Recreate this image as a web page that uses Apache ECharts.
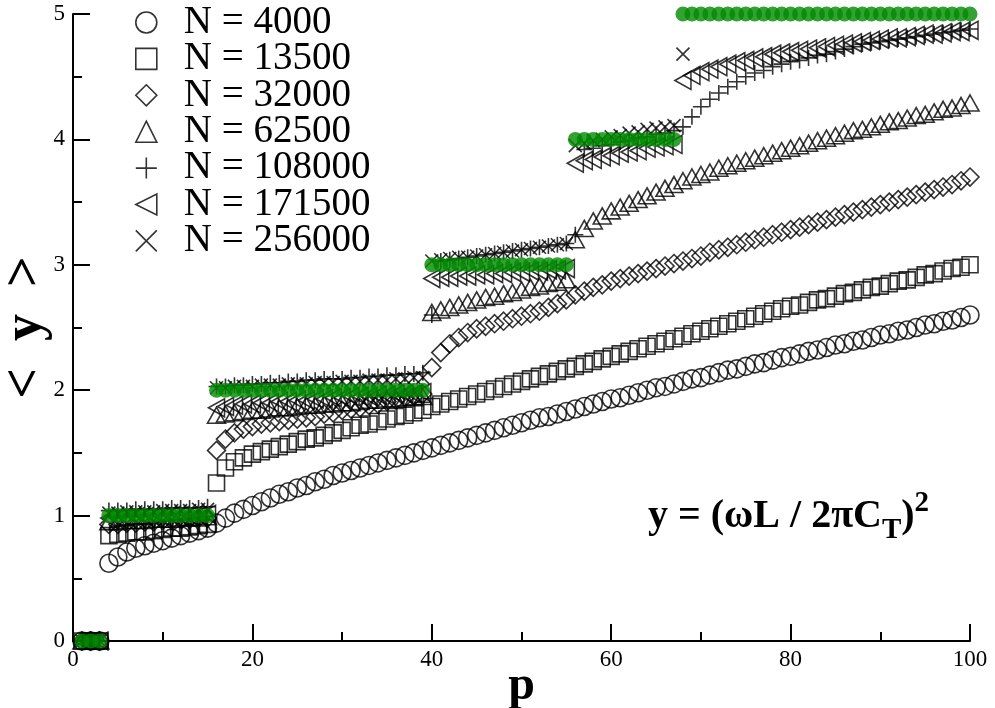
<!DOCTYPE html>
<html>
<head>
<meta charset="utf-8">
<script src="https://cdn.jsdelivr.net/npm/echarts@6/dist/echarts.min.js"></script>
<style>html,body{margin:0;padding:0;background:#fff}#c{width:995px;height:708px}</style>
</head>
<body>
<div id="c"></div>
<script>
// p values (x)
const pValues = [1,2,3,4,5,6,7,8,9,10,11,12,13,14,15,16,17,18,19,20,
21,22,23,24,25,26,27,28,29,30,31,32,33,34,35,36,37,38,39,40,
41,42,43,44,45,46,47,48,49,50,51,52,53,54,55,56,57,58,59,60,
61,62,63,64,65,66,67,68,69,70,71,72,73,74,75,76,77,78,79,80,
81,82,83,84,85,86,87,88,89,90,91,92,93,94,95,96,97,98,99,100];

const seriesNames = ['N = 4000','N = 13500','N = 32000','N = 62500','N = 108000','N = 171500','N = 256000'];

const yN4000 = [0,0,0,0.62,0.67,0.71,0.74,0.76,0.78,0.80,0.82,0.84,0.86,0.88,0.90,
0.94,0.98,1.02,1.05,1.08,1.11,1.14,1.17,1.19,1.22,1.24,1.27,1.29,1.32,1.34,1.36,1.38,1.40,1.42,1.44,1.46,1.48,1.50,1.52,1.54,
1.56,1.58,1.60,1.62,1.64,1.66,1.68,1.70,1.72,1.74,1.76,1.78,1.79,1.81,1.83,1.85,1.87,1.89,1.91,1.93,
1.94,1.96,1.98,2.00,2.02,2.03,2.05,2.07,2.09,2.10,2.12,2.14,2.16,2.17,2.19,2.21,2.22,2.24,2.26,2.27,
2.29,2.31,2.32,2.34,2.36,2.37,2.39,2.40,2.42,2.44,2.45,2.47,2.48,2.50,2.52,2.53,2.55,2.56,2.58,2.60];

const yN13500 = [0,0,0,0.84,0.85,0.86,0.87,0.87,0.88,0.89,0.90,0.90,0.91,0.92,0.93,
1.26,1.38,1.43,1.46,1.49,1.51,1.53,1.55,1.57,1.59,1.61,1.62,1.64,1.66,1.68,1.70,1.72,1.73,1.75,1.77,1.79,1.80,1.82,1.84,1.87,
1.89,1.91,1.93,1.95,1.97,1.99,2.01,2.03,2.05,2.07,2.09,2.11,2.13,2.15,2.17,2.19,2.21,2.23,2.25,2.27,
2.29,2.31,2.33,2.35,2.37,2.39,2.41,2.43,2.45,2.47,2.49,2.51,2.53,2.55,2.57,2.59,2.61,2.63,2.65,2.67,
2.68,2.70,2.72,2.73,2.75,2.77,2.78,2.80,2.82,2.83,2.85,2.87,2.88,2.90,2.92,2.93,2.95,2.97,2.98,3.00];

const yN32000 = [0,0,0,0.93,0.93,0.94,0.94,0.95,0.95,0.96,0.96,0.97,0.97,0.98,0.98,
1.52,1.61,1.66,1.69,1.71,1.73,1.74,1.75,1.76,1.77,1.78,1.79,1.81,1.82,1.84,1.85,1.86,1.88,1.89,1.91,1.92,1.94,1.95,1.97,
2.18,2.30,2.37,2.42,2.46,2.49,2.51,2.53,2.55,2.57,2.59,2.61,2.63,2.66,2.69,2.72,2.76,2.79,2.82,2.84,2.87,
2.89,2.91,2.93,2.95,2.97,2.99,3.01,3.03,3.05,3.07,3.10,3.12,3.14,3.16,3.18,3.20,3.22,3.24,3.26,3.28,
3.30,3.32,3.34,3.36,3.38,3.40,3.42,3.44,3.46,3.48,3.50,3.52,3.54,3.56,3.58,3.60,3.62,3.64,3.67,3.70];

const yN62500 = [0,0,0,0.95,0.95,0.96,0.96,0.96,0.97,0.97,0.97,0.98,0.98,0.98,0.99,
1.80,1.81,1.82,1.83,1.84,1.84,1.85,1.86,1.86,1.87,1.88,1.88,1.89,1.89,1.90,1.90,1.91,1.92,1.92,1.93,1.93,1.94,1.94,1.95,
2.62,2.64,2.66,2.68,2.70,2.72,2.74,2.75,2.77,2.78,2.80,2.82,2.83,2.85,2.86,2.88,
3.20,3.29,3.35,3.39,3.43,3.46,3.49,3.52,3.55,3.58,3.61,3.64,3.67,3.70,3.72,3.74,3.77,3.79,3.81,3.83,3.85,3.87,3.89,3.91,3.93,
3.95,3.97,3.99,4.01,4.03,4.05,4.07,4.08,4.10,4.12,4.14,4.15,4.17,4.19,4.20,4.22,4.24,4.25,4.27,4.29];

const yN108000 = [0,0,0,1.04,1.04,1.04,1.05,1.05,1.05,1.05,1.06,1.06,1.06,1.06,1.07,
2.03,2.03,2.04,2.04,2.05,2.05,2.06,2.06,2.07,2.07,2.08,2.08,2.09,2.09,2.09,2.10,2.10,2.11,2.11,2.12,2.12,2.13,2.13,2.14,
2.60,3.03,3.04,3.05,3.06,3.07,3.08,3.09,3.10,3.11,3.12,3.13,3.14,3.15,3.16,3.17,
3.24,3.92,3.93,3.95,3.96,3.98,3.99,4.01,4.02,4.04,4.05,4.07,
4.10,4.18,4.26,4.32,4.37,4.42,4.46,4.50,4.53,4.55,4.58,4.60,4.62,4.63,4.65,4.67,4.68,4.70,4.72,4.74,4.76,4.77,4.78,4.79,4.80,4.81,4.82,4.83,4.84,4.85,4.86,4.87,4.88];

const yN171500 = [0,0,0,0.98,0.98,0.98,0.99,0.99,0.99,0.99,1.00,1.00,1.00,1.00,1.01,
1.86,1.87,1.88,1.89,1.89,1.90,1.90,1.91,1.91,1.92,1.92,1.93,1.93,1.94,1.94,1.95,1.95,1.95,1.96,1.96,1.97,1.97,1.97,1.98,
2.89,2.90,2.90,2.91,2.91,2.92,2.92,2.93,2.93,2.94,2.94,2.95,2.95,2.96,2.96,2.97,
3.81,3.83,3.84,3.86,3.87,3.89,3.90,3.91,3.93,3.94,3.95,3.96,
4.47,4.51,4.54,4.56,4.58,4.60,4.62,4.63,4.65,4.66,4.68,4.69,4.70,4.71,4.72,4.73,4.74,4.75,4.76,4.77,4.78,4.79,4.80,4.81,4.81,4.82,4.83,4.84,4.84,4.85,4.86,4.86,4.87];

const yN256000 = [0,0,0,1.02,1.02,1.03,1.03,1.03,1.03,1.04,1.04,1.04,1.04,1.05,1.05,
2.02,2.02,2.03,2.03,2.03,2.04,2.04,2.04,2.05,2.05,2.05,2.06,2.06,2.06,2.07,2.07,2.07,2.08,2.08,2.08,2.09,2.09,2.10,2.10,
3.03,3.04,3.05,3.06,3.06,3.07,3.08,3.09,3.10,3.11,3.12,3.13,3.14,3.15,3.16,3.17,
3.95,3.97,3.99,4.00,4.02,4.03,4.05,4.06,4.08,4.09,4.10,4.11,
4.68];

// exact step values (green)
const yExact = [0,0,0,1,1,1,1,1,1,1,1,1,1,1,1,
2,2,2,2,2,2,2,2,2,2,2,2,2,2,2,2,2,2,2,2,2,2,2,2,
3,3,3,3,3,3,3,3,3,3,3,3,3,3,3,3,
4,4,4,4,4,4,4,4,4,4,4,4,
5,5,5,5,5,5,5,5,5,5,5,5,5,5,5,5,5,5,5,5,5,5,5,5,5,5,5,5,5,5,5,5,5];

const xTicks = [0,20,40,60,80,100];
const yTicks = [0,1,2,3,4,5];

const allY = [yN4000,yN13500,yN32000,yN62500,yN108000,yN171500,yN256000];
const symbols = ['circle','rect','diamond','triangle','path://M0,5L10,5M5,0L5,10','path://M10,0L10,10L0,5Z','path://M0,0L10,10M10,0L0,10'];
const symSizes = [18,16,18,[18,16],16,[16,18],13];

function pairs(vals){ return vals.map((v,i)=>[pValues[i], v]); }

const FONT = 'Liberation Serif';
const series = allY.map((vals,k)=>({
  name: seriesNames[k], type:'scatter', data: pairs(vals),
  symbol: symbols[k], symbolSize: symSizes[k], symbolKeepAspect: true,
  itemStyle: {color:'rgba(0,0,0,0)', borderColor:'#000', borderWidth:1.6},
  emphasis:{disabled:true}, z: 2
}));
series.push({
  name:'exact', type:'scatter', data: pairs(yExact), symbol:'circle', symbolSize:15,
  itemStyle:{color:'#008b00', borderWidth:0}, emphasis:{disabled:true}, z: 3
});

const chart = echarts.init(document.getElementById('c'), null, {renderer:'canvas'});
chart.setOption({
  animation:false,
  backgroundColor:'#fff',
  grid:{left:73, right:25, top:14, bottom:67, containLabel:false, outerBoundsMode:'none'},
  legend:{
    data: seriesNames, orient:'vertical', left:130, top:-2,
    itemWidth:21, itemHeight:21, itemGap:-2.6,
    selectedMode:false,
    itemStyle:{color:'rgba(0,0,0,0)', borderColor:'#000', borderWidth:1.6},
    formatter: n => '{g| }' + n,
    textStyle:{fontFamily:FONT, fontSize:39, color:'#000', rich:{g:{width:22, fontSize:39, fontFamily:FONT}}}
  },
  xAxis:{
    type:'value', min:0, max:100, interval:20,
    name:'p', nameLocation:'middle', nameGap:22, nameMoveOverlap:false,
    nameTextStyle:{fontFamily:FONT, fontSize:48, fontWeight:'bold', color:'#000'},
    axisLine:{lineStyle:{color:'#000', width:2}},
    axisTick:{inside:true, length:17, lineStyle:{color:'#000', width:2}},
    minorTick:{show:true, splitNumber:2, length:9, lineStyle:{color:'#000', width:2}},
    splitLine:{show:false},
    axisLabel:{fontFamily:FONT, fontSize:23, color:'#000', margin:7}
  },
  yAxis:{
    type:'value', min:0, max:5, interval:1,
    name:'<  y  >', nameLocation:'middle', nameGap:20, nameMoveOverlap:false,
    nameTextStyle:{fontFamily:FONT, fontSize:54, fontWeight:'bold', color:'#000'},
    axisLine:{lineStyle:{color:'#000', width:2}},
    axisTick:{inside:true, length:17, lineStyle:{color:'#000', width:2}},
    minorTick:{show:true, splitNumber:2, length:9, lineStyle:{color:'#000', width:2}},
    splitLine:{show:false},
    axisLabel:{fontFamily:FONT, fontSize:23, color:'#000', margin:8}
  },
  graphic:[{
    type:'text', left:648, top:489, z:10,
    style:{
      text:'{m|y = (ωL / 2πC}{s|T}{m|)}{p|2}',
      rich:{
        m:{fontFamily:FONT, fontSize:40, fontWeight:'bold', fill:'#000', lineHeight:56, verticalAlign:'middle'},
        s:{fontFamily:FONT, fontSize:29, fontWeight:'bold', fill:'#000', lineHeight:27, verticalAlign:'bottom'},
        p:{fontFamily:FONT, fontSize:29, fontWeight:'bold', fill:'#000', lineHeight:27, verticalAlign:'top'}
      }
    }
  }],
  series: series
});
</script>
</body>
</html>
